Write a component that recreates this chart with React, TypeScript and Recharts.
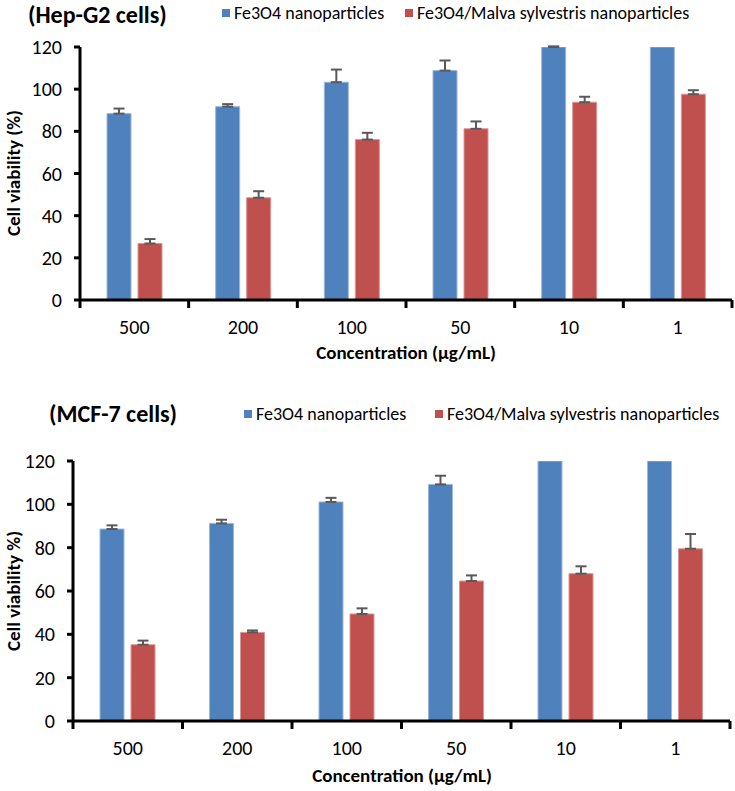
import React from "react";
import { BarChart, Bar, XAxis, YAxis, ErrorBar } from "recharts";

const concentrations = ["500", "200", "100", "50", "10", "1"];
const yTicks = [0, 20, 40, 60, 80, 100, 120];

// Hep-G2
const hepFe3O4 = [88.4, 91.7, 103.3, 108.8, 120, 120];
const hepFe3O4Err = [2.4, 1.2, 6, 4.8, 0.3, null];
const hepMalva = [26.8, 48.5, 76.1, 81.2, 93.8, 97.6];
const hepMalvaErr = [2.1, 3.1, 3.2, 3.5, 2.6, 1.9];

// MCF-7
const mcfFe3O4 = [88.6, 91.2, 101.1, 109.2, 120, 120];
const mcfFe3O4Err = [1.7, 1.7, 1.9, 4, null, null];
const mcfMalva = [35.2, 40.9, 49.4, 64.6, 68, 79.5];
const mcfMalvaErr = [1.9, 0.9, 2.6, 2.6, 3.4, 6.8];

const BLUE = "#4F81BD";
const RED = "#C0504D";
const FONT = "Carlito, Lato, sans-serif";

function build(a: number[], aErr: (number | null)[], b: number[], bErr: (number | null)[]) {
  return concentrations.map((c, i) => ({
    name: c,
    fe: a[i],
    feErr: aErr[i] == null ? null : [0, aErr[i]],
    malva: b[i],
    malvaErr: bErr[i] == null ? null : [0, bErr[i]],
  }));
}

// category ticks sit on the band edges, like Excel
const XTick = (props: any) => {
  const { x, y, payload, index } = props;
  const half = payload?.offset ?? 54;
  return (
    <g>
      <line x1={x - half} x2={x - half} y1={y - 8} y2={y} stroke="#000" strokeWidth={3} />
      {index === concentrations.length - 1 && (
        <line x1={x + half} x2={x + half} y1={y - 8} y2={y} stroke="#000" strokeWidth={3} />
      )}
      <text x={x} y={y + 26} textAnchor="middle" fontSize={20} fontFamily={FONT} fill="#000">
        {payload.value}
      </text>
    </g>
  );
};

function Panel(props: {
  top: number;
  height: number;
  margin: { top: number; right: number; left: number; bottom: number };
  data: any[];
  title: string;
  titleX: number;
  titleY: number;
  legendY: number;
  legendX: [number, number];
  yLabel: string;
  yLabelY: number;
  xLabelX: number;
  xLabelY: number;
}) {
  const { top, height, margin, data } = props;
  return (
    <div style={{ position: "absolute", left: 0, top, width: 735, height }}>
      <BarChart width={735} height={height} data={data} margin={margin} barGap={7} barSize={24}>
        <XAxis
          dataKey="name"
          axisLine={{ stroke: "#000", strokeWidth: 3 }}
          tickLine={false}
          tick={<XTick />}
          interval={0}
        />
        <YAxis
          domain={[0, 120]}
          ticks={yTicks}
          allowDataOverflow
          width={45}
          axisLine={{ stroke: "#000", strokeWidth: 3 }}
          tickLine={{ stroke: "#000", strokeWidth: 3 }}
          tickSize={6}
          tickMargin={12}
          tick={{ fontSize: 20, fontFamily: FONT, fill: "#000" }}
        />
        <Bar dataKey="fe" fill={BLUE} stroke="#9db6da" strokeWidth={1} isAnimationActive={false}>
          <ErrorBar dataKey="feErr" width={5.5} stroke="#595959" strokeWidth={2} />
        </Bar>
        <Bar dataKey="malva" fill={RED} stroke="#d99694" strokeWidth={1} isAnimationActive={false}>
          <ErrorBar dataKey="malvaErr" width={5.5} stroke="#595959" strokeWidth={2} />
        </Bar>
      </BarChart>
      <div
        style={{
          position: "absolute",
          left: props.titleX,
          top: props.titleY,
          fontFamily: FONT,
          fontWeight: 700,
          fontSize: 24,
          lineHeight: "24px",
          whiteSpace: "nowrap",
        }}
      >
        {props.title}
      </div>
      {[
        { label: "Fe3O4 nanoparticles", color: BLUE, x: props.legendX[0] },
        { label: "Fe3O4/Malva sylvestris nanoparticles", color: RED, x: props.legendX[1] },
      ].map((l) => (
        <div
          key={l.label}
          style={{
            position: "absolute",
            left: l.x,
            top: props.legendY - 11,
            height: 22,
            display: "flex",
            alignItems: "center",
            gap: 4,
            fontFamily: FONT,
            fontSize: 18,
            whiteSpace: "nowrap",
          }}
        >
          <span style={{ width: 8, height: 8, background: l.color, display: "inline-block" }} />
          <span>{l.label}</span>
        </div>
      ))}
      <div
        style={{
          position: "absolute",
          left: 13,
          top: props.yLabelY,
          transform: "translate(-50%, -50%) rotate(-90deg)",
          fontFamily: FONT,
          fontWeight: 700,
          fontSize: 19,
          whiteSpace: "nowrap",
        }}
      >
        {props.yLabel}
      </div>
      <div
        style={{
          position: "absolute",
          left: props.xLabelX,
          top: props.xLabelY,
          transform: "translate(-50%, -50%)",
          fontFamily: FONT,
          fontWeight: 700,
          fontSize: 19,
          whiteSpace: "nowrap",
        }}
      >
        Concentration (μg/mL)
      </div>
    </div>
  );
}

export default function App() {
  const hepData = build(hepFe3O4, hepFe3O4Err, hepMalva, hepMalvaErr);
  const mcfData = build(mcfFe3O4, mcfFe3O4Err, mcfMalva, mcfMalvaErr);
  return (
    <div style={{ position: "absolute", left: 0, top: 0, width: 735, height: 791, background: "#fff" }}>
      <Panel
        top={0}
        height={380}
        margin={{ top: 47, right: 3, left: 35, bottom: 50 }}
        data={hepData}
        title="(Hep-G2 cells)"
        titleX={28}
        titleY={3}
        legendY={13}
        legendX={[222, 405]}
        yLabel="Cell viability (%)"
        yLabelY={173}
        xLabelX={406}
        xLabelY={352}
      />
      <Panel
        top={400}
        height={391}
        margin={{ top: 61, right: 5, left: 28, bottom: 40 }}
        data={mcfData}
        title="(MCF-7 cells)"
        titleX={49}
        titleY={2}
        legendY={14}
        legendX={[244, 435]}
        yLabel="Cell viability %)"
        yLabelY={191}
        xLabelX={402}
        xLabelY={375}
      />
    </div>
  );
}
